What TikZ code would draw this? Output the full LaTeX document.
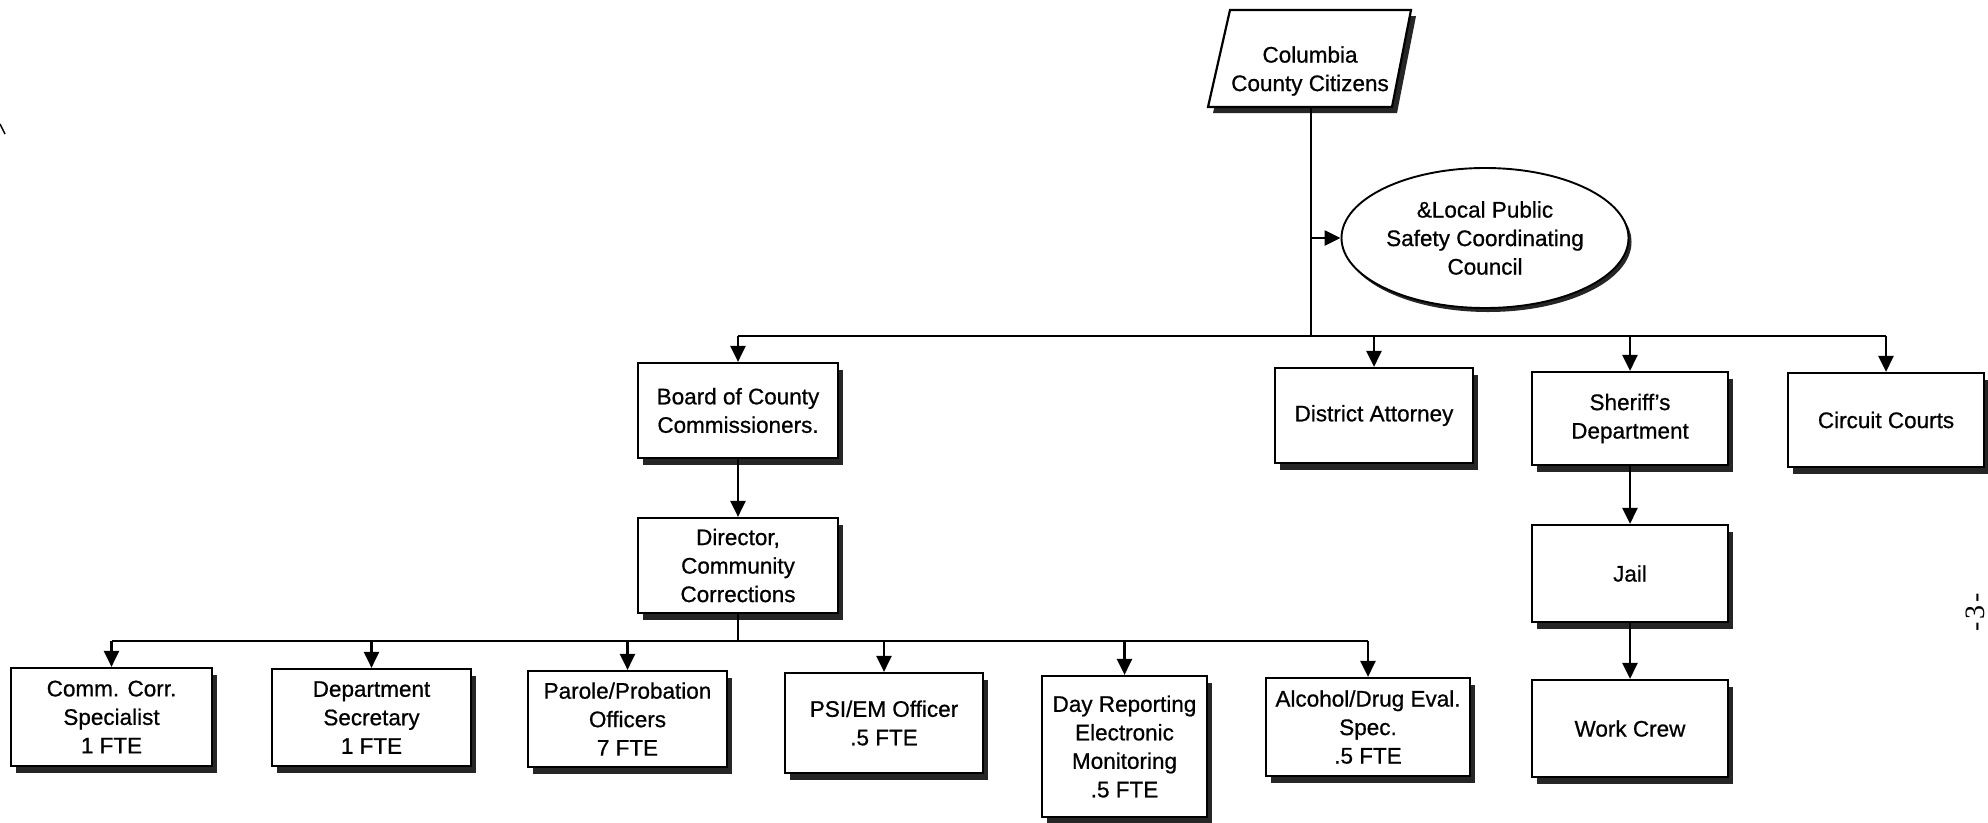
\documentclass[tikz,border=0pt]{standalone}
\usepackage{fontspec}
\setmainfont{Liberation Sans}
\newfontfamily\heavysans{Liberation Sans}[FakeBold=0.7,Ligatures=TeX]
\newfontfamily\pgserif{Liberation Serif}
\usetikzlibrary{shapes.geometric,shadows,arrows.meta}
\begin{document}
\begin{tikzpicture}[x=1pt,y=-1pt,
  txt/.style={font=\heavysans\fontsize{22.5}{28.5}\selectfont, align=center},
  box/.style={txt, draw, line width=2.2pt, fill=white, inner sep=0pt,
    drop shadow={shadow xshift=5pt, shadow yshift=-7pt, fill=black!85, opacity=1}},
  conn/.style={line width=2.4pt},
  arr/.style={line width=2.4pt, -{Triangle[length=16pt,width=15pt]}}
]
\useasboundingbox (0,0) rectangle (1988,822);

% top: parallelogram
\fill[black!85] (1235,16) -- (1416,16) -- (1397,113) -- (1213,113) -- cycle;
\draw[line width=2.2pt, fill=white] (1230,10) -- (1411,10) -- (1392,107) -- (1208,107) -- cycle;
\node[txt, minimum width=184pt, minimum height=97pt, inner sep=0pt] (cit) at (1311,58.5) {};
\node[txt] (citt) at (1310,71) {Columbia\\County Citizens};

\node[ellipse, txt, draw, line width=1.9pt, fill=white, inner sep=0pt,
  minimum width=287pt, minimum height=140pt,
  drop shadow={shadow xshift=3pt, shadow yshift=-4pt, fill=black!85, opacity=1}] (council) at (1485,238)
  {\&Local Public\\Safety Coordinating\\Council};

% second level
\node[box, minimum width=200pt, minimum height=95pt] (board) at (738,410.5) {Board of County\\Commissioners.};
\node[box, minimum width=198pt, minimum height=95pt] (da) at (1374,415.5) {District Attorney};
\node[box, minimum width=196pt, minimum height=93pt] (sheriff) at (1630,418.5) {Sheriff’s\\Department};
\node[box, minimum width=196pt, minimum height=94pt] (circuit) at (1886,420) {Circuit Courts};

\node[box, minimum width=200pt, minimum height=95pt] (director) at (738,565.5) {Director,\\Community\\Corrections};
\node[box, minimum width=196pt, minimum height=97pt] (jail) at (1630,573.5) {Jail};
\node[box, minimum width=196pt, minimum height=97pt] (work) at (1630,728.5) {Work Crew};

% bottom row
\node[box, minimum width=201pt, minimum height=98pt] (ccs) at (111.5,717) {Comm. Corr.\\Specialist\\1 FTE};
\node[box, minimum width=199pt, minimum height=97pt] (secr) at (371.5,717.5) {Department\\Secretary\\1 FTE};
\node[box, minimum width=199pt, minimum height=96pt] (parole) at (627.5,719) {Parole/Probation\\Officers\\7 FTE};
\node[box, minimum width=198pt, minimum height=100pt] (psi) at (884,723) {PSI/EM Officer\\.5 FTE};
\node[box, minimum width=165pt, minimum height=141pt] (day) at (1124.5,746.5) {Day Reporting\\Electronic\\Monitoring\\.5 FTE};
\node[box, minimum width=204pt, minimum height=98pt] (alc) at (1368,727) {Alcohol/Drug Eval.\\Spec.\\.5 FTE};

% page number and stray mark
\node[font=\pgserif\fontsize{28}{28}\selectfont, rotate=90, inner sep=0pt] (pg) at (1975,612) {-\hspace{3pt}3\hspace{3pt}-};
\draw[line width=1.5pt] (0,124) -- (5,134);

% connectors
\coordinate (bus) at (1312,336);
\coordinate (bus2) at (738,641);
\draw[conn] (cit.south) -- (cit.south |- bus);
\draw[arr] (cit.south |- council.west) -- (council.west);
\draw[conn] (board.north |- bus) -- (circuit.north |- bus);
\draw[arr] (board.north |- bus) -- (board.north);
\draw[arr] (da.north |- bus) -- (da.north);
\draw[arr] (sheriff.north |- bus) -- (sheriff.north);
\draw[arr] (circuit.north |- bus) -- (circuit.north);
\draw[arr] (board.south) -- (director.north);
\draw[arr] (sheriff.south) -- (jail.north);
\draw[arr] (jail.south) -- (work.north);
\draw[conn] (director.south) -- (director.south |- bus2);
\draw[conn] (ccs.north |- bus2) -- (alc.north |- bus2);
\foreach \n in {ccs,secr,parole,psi,day,alc}
  \draw[arr] (\n.north |- bus2) -- (\n.north);
\end{tikzpicture}
\end{document}
